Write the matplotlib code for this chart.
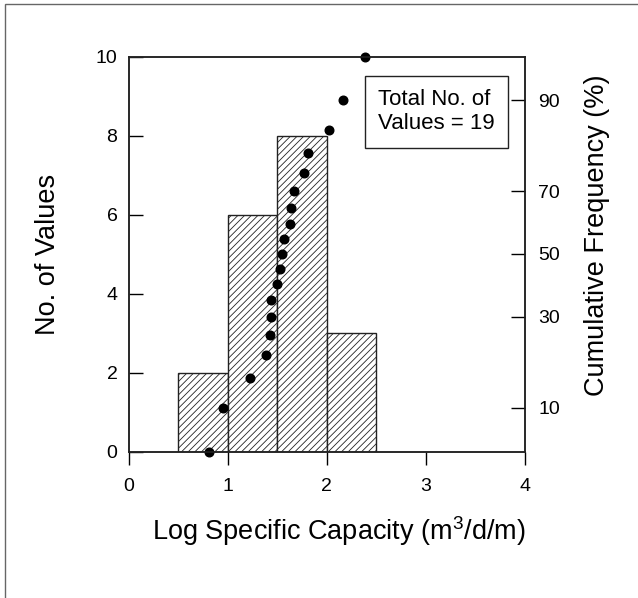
import numpy as np
import matplotlib
matplotlib.use("Agg")
import matplotlib.pyplot as plt
import matplotlib.patches as patches
from statistics import NormalDist

plt.rcParams['font.family'] = ['Liberation Sans', 'DejaVu Sans']
plt.rcParams['mathtext.default'] = 'regular'
plt.rcParams['hatch.linewidth'] = 0.6
plt.rcParams['hatch.color'] = '#333333'

# histogram classes (log specific capacity) and counts
bin_left = [0.5, 1.0, 1.5, 2.0]
bin_width = 0.5
counts = [2, 6, 8, 3]

# cumulative frequency points (sorted values vs plotting position, %)
cum_x = [0.81, 0.95, 1.23, 1.39, 1.43, 1.44, 1.44, 1.50, 1.53, 1.55,
         1.57, 1.63, 1.64, 1.67, 1.77, 1.81, 2.03, 2.17, 2.39]
cum_pct = [5, 10, 15, 20, 25, 30, 35, 40, 45, 50,
           55, 60, 65, 70, 75, 80, 85, 90, 95]

right_ticks = [10, 30, 50, 70, 90]

# probability scale: 5% -> 0, 95% -> 10 on the count axis
nd = NormalDist()
k = 5.0 / nd.inv_cdf(0.95)
def prob2left(p):
    return [5 + k*nd.inv_cdf(v/100.0) for v in p]

fig = plt.figure(figsize=(6.38, 5.98), dpi=100)
ax = fig.add_axes([128.5/638, 1-451.5/598, 396/638, 395/598])

ax.bar(bin_left, counts, width=bin_width, align='edge', color='white',
       edgecolor='#222222', linewidth=1.0, hatch='/////', zorder=2)
ax.plot(cum_x, prob2left(cum_pct), 'o', color='black', ms=6.2,
        clip_on=False, zorder=4)

ax.set_xlim(0, 4)
ax.set_ylim(0, 10)
ax.set_xticks([0, 1, 2, 3, 4])
ax.set_yticks([0, 2, 4, 6, 8, 10])
ax.tick_params(axis='x', direction='out', length=9, width=1, pad=10, labelsize=14)
ax.tick_params(axis='y', direction='in', length=10, width=1, pad=8, labelsize=14)
for s in ax.spines.values():
    s.set_linewidth(1.1)
    s.set_color('#222222')

ax.set_xlabel('Log Specific Capacity (m$^3$/d/m)', fontsize=19.5)
ax.xaxis.set_label_coords(0.53, -0.16)
ax.set_ylabel('No. of Values', fontsize=19.5)
ax.yaxis.set_label_coords(-0.17, 0.5)

ax2 = ax.twinx()
ax2.set_ylim(0, 10)
ax2.set_yticks(prob2left(right_ticks))
ax2.set_yticklabels([str(t) for t in right_ticks])
ax2.tick_params(axis='y', direction='in', length=10, width=1, pad=10, labelsize=14)
for s in ax2.spines.values():
    s.set_linewidth(1.1)
    s.set_color('#222222')
ax2.set_ylabel('Cumulative Frequency (%)', fontsize=19.5)
ax2.yaxis.set_label_coords(1.15, 0.547)

ax.text(3.11, 8.6, 'Total No. of\nValues = 19', fontsize=16, ha='center',
        va='center', multialignment='left', linespacing=1.2, zorder=5,
        bbox=dict(boxstyle='square,pad=0.6', facecolor='white',
                  edgecolor='#222222', linewidth=1.0))

fig.patches.append(patches.Rectangle((5/638, -0.1), 1.2, 0.1 + 1 - 4/598,
                                     transform=fig.transFigure, fill=False,
                                     edgecolor='#666666', linewidth=1.0))

fig.savefig('out.png', dpi=100)
